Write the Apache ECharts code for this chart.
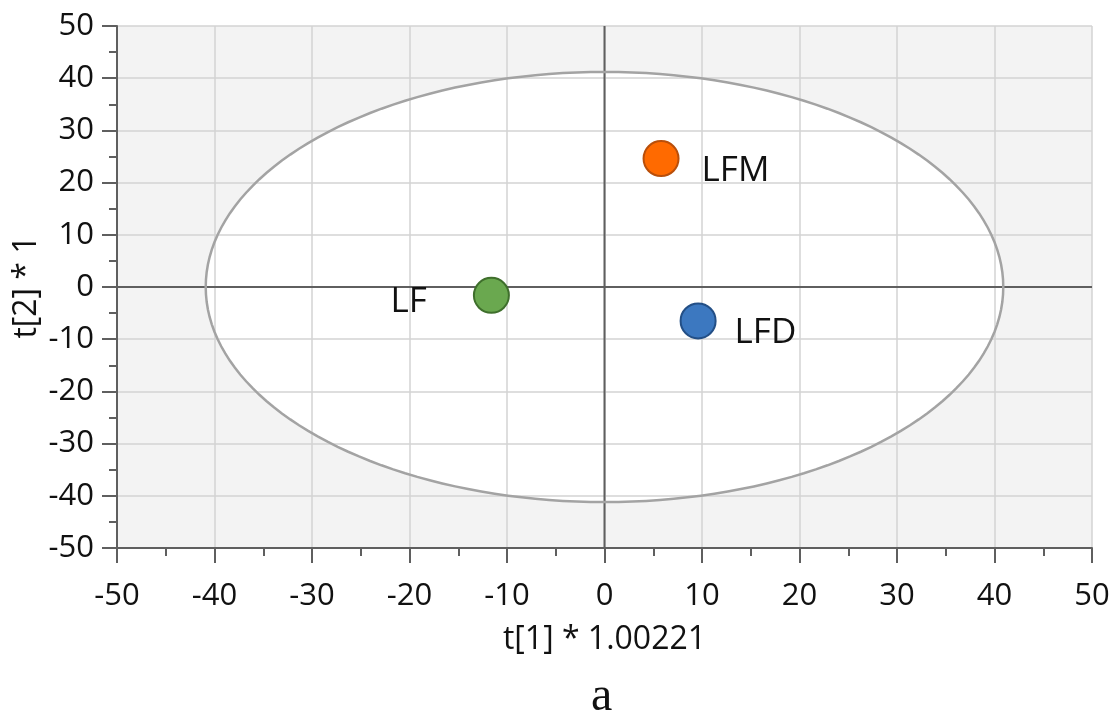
<!DOCTYPE html>
<html>
<head>
<meta charset="utf-8">
<title>PCA score plot</title>
<script src="https://cdn.jsdelivr.net/npm/echarts@6/dist/echarts.min.js"></script>
<style>
  html, body { margin: 0; padding: 0; background: #ffffff; }
  #chart { width: 1114px; height: 713px; }
</style>
</head>
<body>
<div id="chart"></div>
<script>
// Sample groups and their scores on the first two components
const groups = ['LF', 'LFM', 'LFD'];
const t1Scores = [-11.6, 5.8, 9.6];
const t2Scores = [-1.6, 24.6, -6.5];

// Hotelling's T2 (95%) ellipse, centred at the origin
const ellipseCenter = [0, 0];
const ellipseRadii = [40.9, 41.2];

// Axis ranges and tick step
const axisRange = [-50, 50];
const tickStep = 10;

const xAxisTitle = 't[1] * 1.00221';
const yAxisTitle = 't[2] * 1';
const panelLetter = 'a';

const FONT = '"Open Sans", "Noto Sans", sans-serif';
const TEXT = '#111111';
const AXIS_DARK = '#5f5f5f';

const groupStyle = {
  LF:  { fill: '#6aa84f', border: '#3f6f2c', side: 'left',  offset: [-46, 7] },
  LFM: { fill: '#ff6a00', border: '#b94f0a', side: 'right', offset: [22, 12] },
  LFD: { fill: '#3c78c0', border: '#234f86', side: 'right', offset: [18, 12] }
};

function ellipsePoints(api) {
  const pts = [];
  const n = 180;
  for (let i = 0; i <= n; i++) {
    const a = (i / n) * Math.PI * 2;
    pts.push(api.coord([
      ellipseCenter[0] + ellipseRadii[0] * Math.cos(a),
      ellipseCenter[1] + ellipseRadii[1] * Math.sin(a)
    ]));
  }
  return pts;
}

const scatterData = groups.map((g, i) => {
  const s = groupStyle[g];
  return {
    name: g,
    value: [t1Scores[i], t2Scores[i]],
    itemStyle: { color: s.fill, borderColor: s.border, borderWidth: 2, opacity: 1 },
    label: {
      show: true,
      formatter: '{b}',
      position: s.side,
      distance: 0,
      offset: s.offset,
      fontSize: 35,
      fontFamily: FONT,
      color: TEXT
    }
  };
});

const chart = echarts.init(document.getElementById('chart'), null, { renderer: 'canvas' });

const axisCommon = {
  type: 'value',
  min: axisRange[0],
  max: axisRange[1],
  interval: tickStep,
  z: 2,
  nameLocation: 'middle',
  nameMoveOverlap: false,
  nameTextStyle: { fontSize: 32, fontFamily: FONT, color: TEXT },
  axisLine: { show: true, onZero: false, lineStyle: { color: AXIS_DARK, width: 2 } },
  axisTick: { show: true, inside: false, length: 15, lineStyle: { color: AXIS_DARK, width: 2 } },
  minorTick: { show: true, splitNumber: 2, length: 8, lineStyle: { color: AXIS_DARK, width: 2 } },
  splitLine: { show: true, lineStyle: { color: '#d3d3d3', width: 1.5 } },
  axisLabel: { fontSize: 31, fontFamily: FONT, color: TEXT }
};

chart.setOption({
  animation: false,
  backgroundColor: '#ffffff',
  grid: {
    left: 117, right: 22, top: 26, bottom: 165,
    show: true,
    backgroundColor: '#f3f3f3',
    borderWidth: 0
  },
  xAxis: Object.assign({}, axisCommon, {
    name: xAxisTitle,
    nameGap: 76,
    axisLabel: Object.assign({}, axisCommon.axisLabel, { margin: 33 })
  }),
  yAxis: Object.assign({}, axisCommon, {
    name: yAxisTitle,
    nameGap: 74,
    axisLabel: Object.assign({}, axisCommon.axisLabel, { margin: 23 })
  }),
  graphic: [{
    type: 'text',
    left: 591,
    top: 673,
    style: {
      text: panelLetter,
      font: '48px "Liberation Serif", "DejaVu Serif", serif',
      fill: '#111111'
    }
  }],
  series: [
    {
      // white interior of the confidence ellipse, under the grid lines
      type: 'custom',
      z: 1,
      silent: true,
      data: [[0, 0]],
      renderItem: function (params, api) {
        return {
          type: 'polygon',
          shape: { points: ellipsePoints(api) },
          style: { fill: '#ffffff', stroke: 'none' }
        };
      }
    },
    {
      // origin cross-hair and ellipse outline
      type: 'custom',
      z: 3,
      silent: true,
      data: [[0, 0]],
      renderItem: function (params, api) {
        const xa = api.coord([axisRange[0], 0]);
        const xb = api.coord([axisRange[1], 0]);
        const ya = api.coord([0, axisRange[0]]);
        const yb = api.coord([0, axisRange[1]]);
        return {
          type: 'group',
          children: [
            { type: 'line', shape: { x1: xa[0], y1: xa[1], x2: xb[0], y2: xb[1] },
              style: { stroke: AXIS_DARK, lineWidth: 2 } },
            { type: 'line', shape: { x1: ya[0], y1: ya[1], x2: yb[0], y2: yb[1] },
              style: { stroke: AXIS_DARK, lineWidth: 2 } },
            { type: 'polyline', shape: { points: ellipsePoints(api) },
              style: { stroke: '#a3a3a3', lineWidth: 2.5, fill: 'none' } }
          ]
        };
      }
    },
    {
      type: 'scatter',
      z: 5,
      symbol: 'circle',
      symbolSize: 35,
      data: scatterData
    }
  ]
});
</script>
</body>
</html>
